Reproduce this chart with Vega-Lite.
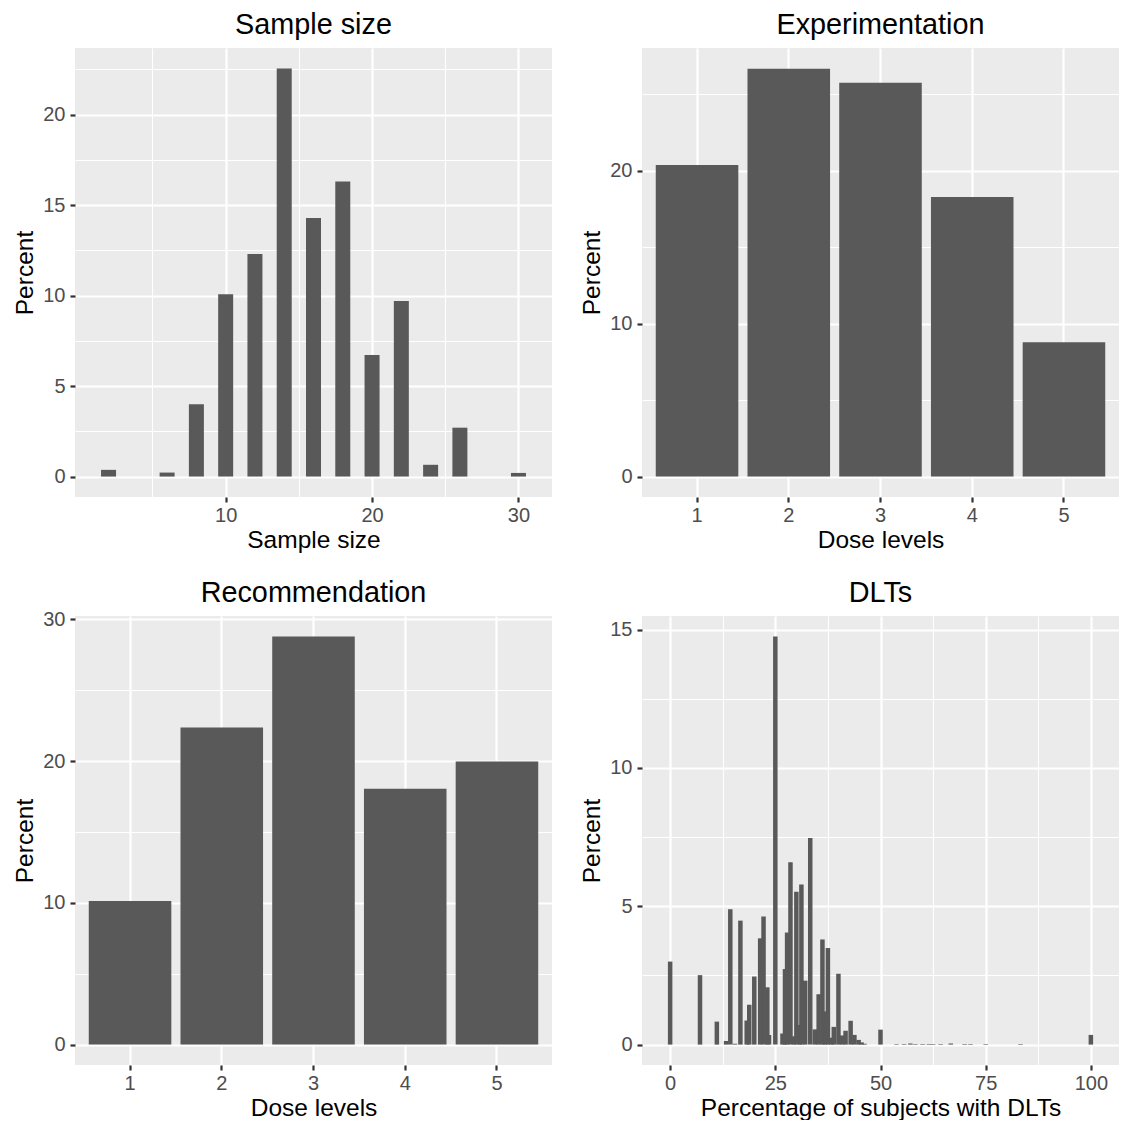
{
  "$schema": "https://vega.github.io/schema/vega-lite/v6.json",
  "background": "white",
  "padding": {"left": 12, "top": 11, "right": 4, "bottom": 0},
  "columns": 2,
  "spacing": {"row": 27, "column": 27},
  "config": {
    "font": "Liberation Sans",
    "view": {"fill": "#EBEBEB", "stroke": null},
    "axis": {
      "domain": false, "grid": true, "gridColor": "#FFFFFF", "gridWidth": 2.2,
      "tickColor": "#333333", "tickWidth": 2.2, "tickSize": 5,
      "labelFont": "Liberation Sans", "labelFontSize": 20, "labelColor": "#4D4D4D",
      "labelPadding": 3, "labelFlush": false, "labelOverlap": false,
      "titleFont": "Liberation Sans", "titleFontSize": 24.5, "titleFontWeight": "normal",
      "titleColor": "#000000", "titlePadding": 3
    },
    "axisY": {"labelPadding": 5, "titlePadding": 5},
    "title": {"font": "Liberation Sans", "fontSize": 28.8, "fontWeight": "normal", "color": "#000000", "anchor": "middle", "baseline": "alphabetic", "offset": 8, "frame": "group"},
    "bar": {"color": "#595959"}
  },
  "datasets": {
    "sample": [
      {"size": 2, "percent": 0.37}, {"size": 6, "percent": 0.22}, {"size": 8, "percent": 3.99},
      {"size": 10, "percent": 10.07}, {"size": 12, "percent": 12.3}, {"size": 14, "percent": 22.55},
      {"size": 16, "percent": 14.29}, {"size": 18, "percent": 16.3}, {"size": 20, "percent": 6.72},
      {"size": 22, "percent": 9.7}, {"size": 24, "percent": 0.65}, {"size": 26, "percent": 2.7},
      {"size": 30, "percent": 0.2}
    ],
    "experimentation": [
      {"dose": 1, "percent": 20.39}, {"dose": 2, "percent": 26.69}, {"dose": 3, "percent": 25.77},
      {"dose": 4, "percent": 18.3}, {"dose": 5, "percent": 8.79}
    ],
    "recommendation": [
      {"dose": 1, "percent": 10.13}, {"dose": 2, "percent": 22.38}, {"dose": 3, "percent": 28.8},
      {"dose": 4, "percent": 18.06}, {"dose": 5, "percent": 19.97}
    ],
    "dlts": [
      {"pct": 0, "percent": 3.0}, {"pct": 7.1, "percent": 2.51}, {"pct": 11.1, "percent": 0.83},
      {"pct": 13.3, "percent": 0.13}, {"pct": 14.3, "percent": 4.89}, {"pct": 15.4, "percent": 0.03},
      {"pct": 16.7, "percent": 4.48}, {"pct": 18.2, "percent": 0.87}, {"pct": 18.8, "percent": 1.44},
      {"pct": 20, "percent": 2.46}, {"pct": 21.4, "percent": 3.84}, {"pct": 22.2, "percent": 4.63},
      {"pct": 23.1, "percent": 2.07}, {"pct": 23.5, "percent": 0.35}, {"pct": 25, "percent": 14.75},
      {"pct": 26.7, "percent": 0.4}, {"pct": 27.3, "percent": 2.73}, {"pct": 27.8, "percent": 4.05},
      {"pct": 28.6, "percent": 6.59}, {"pct": 29.4, "percent": 0.3}, {"pct": 30, "percent": 5.52},
      {"pct": 30.8, "percent": 0.71}, {"pct": 31.2, "percent": 5.79}, {"pct": 32.1, "percent": 2.31},
      {"pct": 33.3, "percent": 7.47}, {"pct": 34.4, "percent": 0.55}, {"pct": 35.3, "percent": 1.82},
      {"pct": 36.2, "percent": 3.8}, {"pct": 36.8, "percent": 1.2}, {"pct": 37.5, "percent": 3.49},
      {"pct": 38.3, "percent": 0.25}, {"pct": 38.9, "percent": 0.64}, {"pct": 40, "percent": 2.56},
      {"pct": 40.9, "percent": 0.33}, {"pct": 41.7, "percent": 0.5}, {"pct": 42.9, "percent": 0.86},
      {"pct": 43.8, "percent": 0.35}, {"pct": 44.8, "percent": 0.17}, {"pct": 45.5, "percent": 0.08},
      {"pct": 46.2, "percent": 0.03}, {"pct": 50, "percent": 0.54}, {"pct": 53.8, "percent": 0.02},
      {"pct": 55.6, "percent": 0.02}, {"pct": 57.1, "percent": 0.04}, {"pct": 58.3, "percent": 0.02},
      {"pct": 60, "percent": 0.02}, {"pct": 61.5, "percent": 0.02}, {"pct": 62.5, "percent": 0.02},
      {"pct": 64.3, "percent": 0.02}, {"pct": 66.7, "percent": 0.04}, {"pct": 70, "percent": 0.02},
      {"pct": 71.4, "percent": 0.02}, {"pct": 75, "percent": 0.02}, {"pct": 83.3, "percent": 0.02},
      {"pct": 100, "percent": 0.35}
    ]
  },
  "concat": [
    {
      "width": 477, "height": 449,
      "title": "Sample size",
      "data": {"name": "sample"},
      "mark": {"type": "bar", "width": 15, "color": "#595959"},
      "encoding": {
        "x": {"field": "size", "type": "quantitative",
          "scale": {"domain": [0.05, 31.95], "nice": false, "zero": false},
          "axis": {"title": "Sample size", "values": [5, 10, 15, 20, 25, 30], "format": "d",
            "labelExpr": "datum.value % 10 == 0 ? datum.label : ''",
            "gridWidth": {"condition": {"test": "datum.value % 10 == 0", "value": 2.2}, "value": 1.1},
            "tickOpacity": {"condition": {"test": "datum.value % 10 == 0", "value": 1}, "value": 0}}},
        "y": {"field": "percent", "type": "quantitative",
          "scale": {"domain": [-1.13, 23.68], "nice": false, "zero": false},
          "axis": {"title": "Percent", "values": [0, 2.5, 5, 7.5, 10, 12.5, 15, 17.5, 20, 22.5], "format": "d",
            "labelExpr": "datum.value % 5 == 0 ? datum.label : ''",
            "gridWidth": {"condition": {"test": "datum.value % 5 == 0", "value": 2.2}, "value": 1.1},
            "tickOpacity": {"condition": {"test": "datum.value % 5 == 0", "value": 1}, "value": 0}}},
        "y2": {"datum": 0}
      }
    },
    {
      "width": 477, "height": 449,
      "title": "Experimentation",
      "data": {"name": "experimentation"},
      "mark": {"type": "bar", "color": "#595959"},
      "encoding": {
        "x": {"field": "dose", "type": "ordinal",
          "scale": {"paddingInner": 0.1, "paddingOuter": 0.15},
          "axis": {"title": "Dose levels", "labelAngle": 0, "bandPosition": 0.5}},
        "y": {"field": "percent", "type": "quantitative",
          "scale": {"domain": [-1.335, 28.04], "nice": false, "zero": false},
          "axis": {"title": "Percent", "values": [0, 5, 10, 15, 20, 25], "format": "d",
            "labelExpr": "datum.value % 10 == 0 ? datum.label : ''",
            "gridWidth": {"condition": {"test": "datum.value % 10 == 0", "value": 2.2}, "value": 1.1},
            "tickOpacity": {"condition": {"test": "datum.value % 10 == 0", "value": 1}, "value": 0}}},
        "y2": {"datum": 0}
      }
    },
    {
      "width": 477, "height": 449,
      "title": {"text": "Recommendation", "offset": 1.4},
      "data": {"name": "recommendation"},
      "mark": {"type": "bar", "color": "#595959"},
      "encoding": {
        "x": {"field": "dose", "type": "ordinal",
          "scale": {"paddingInner": 0.1, "paddingOuter": 0.15},
          "axis": {"title": "Dose levels", "labelAngle": 0, "bandPosition": 0.5}},
        "y": {"field": "percent", "type": "quantitative",
          "scale": {"domain": [-1.44, 30.24], "nice": false, "zero": false},
          "axis": {"title": "Percent", "values": [0, 5, 10, 15, 20, 25, 30], "format": "d",
            "labelExpr": "datum.value % 10 == 0 ? datum.label : ''",
            "gridWidth": {"condition": {"test": "datum.value % 10 == 0", "value": 2.2}, "value": 1.1},
            "tickOpacity": {"condition": {"test": "datum.value % 10 == 0", "value": 1}, "value": 0}}},
        "y2": {"datum": 0}
      }
    },
    {
      "width": 477, "height": 449,
      "title": "DLTs",
      "data": {"name": "dlts"},
      "mark": {"type": "bar", "width": 4.5, "color": "#595959"},
      "encoding": {
        "x": {"field": "pct", "type": "quantitative",
          "scale": {"domain": [-5.5, 105.5], "nice": false, "zero": false},
          "axis": {"title": "Percentage of subjects with DLTs", "values": [0, 12.5, 25, 37.5, 50, 62.5, 75, 87.5, 100], "format": "d",
            "labelExpr": "datum.value % 25 == 0 ? datum.label : ''",
            "gridWidth": {"condition": {"test": "datum.value % 25 == 0", "value": 2.2}, "value": 1.1},
            "tickOpacity": {"condition": {"test": "datum.value % 25 == 0", "value": 1}, "value": 0}}},
        "y": {"field": "percent", "type": "quantitative",
          "scale": {"domain": [-0.7375, 15.49], "nice": false, "zero": false},
          "axis": {"title": "Percent", "values": [0, 2.5, 5, 7.5, 10, 12.5, 15], "format": "d",
            "labelExpr": "datum.value % 5 == 0 ? datum.label : ''",
            "gridWidth": {"condition": {"test": "datum.value % 5 == 0", "value": 2.2}, "value": 1.1},
            "tickOpacity": {"condition": {"test": "datum.value % 5 == 0", "value": 1}, "value": 0}}},
        "y2": {"datum": 0}
      }
    }
  ]
}
